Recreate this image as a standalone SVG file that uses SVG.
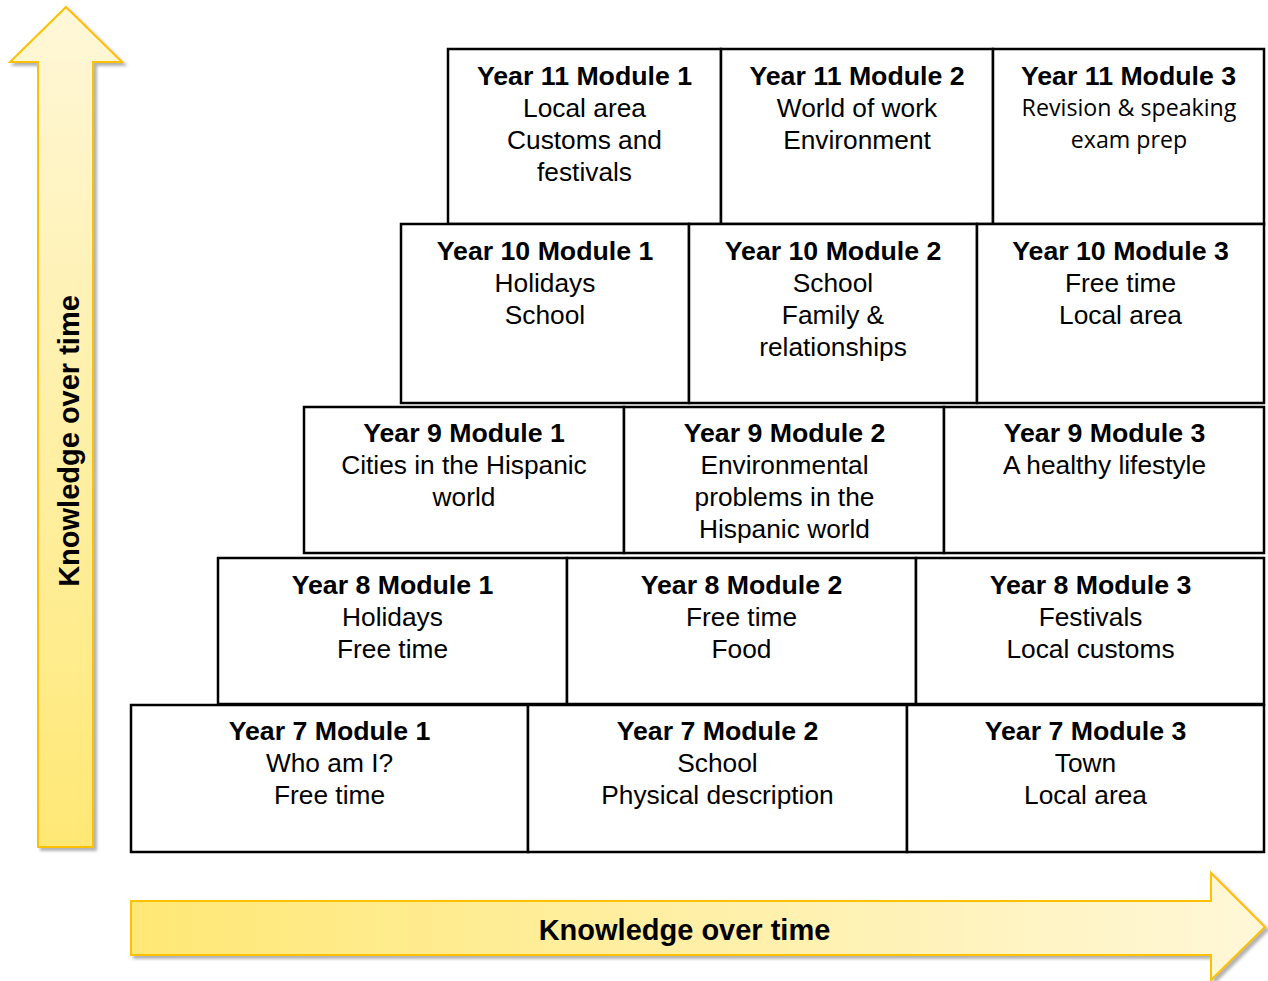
<svg xmlns="http://www.w3.org/2000/svg" width="1268" height="981" viewBox="0 0 1268 981">
<style>
.cell{fill:#ffffff;stroke:#000000;stroke-width:2.5}
.t{font-family:"Liberation Sans",Arial,sans-serif;font-size:26.3px;fill:#000000;text-anchor:middle}
.b{font-weight:bold;font-size:26.7px}
.c{font-family:"Open Sans","Noto Sans",sans-serif;font-size:23.2px;fill:#000000;text-anchor:middle}
.arrow{stroke:#ffc000;stroke-width:2;stroke-linejoin:miter}
.lbl{font-family:"Liberation Sans",Arial,sans-serif;font-size:29px;font-weight:bold;fill:#000000;text-anchor:middle}
</style>
<defs>
<linearGradient id="gv" x1="0" y1="0" x2="0" y2="1">
<stop offset="0" stop-color="#fff7d8"/>
<stop offset="1" stop-color="#ffe875"/>
</linearGradient>
<linearGradient id="gh" x1="0" y1="0" x2="1" y2="0">
<stop offset="0" stop-color="#ffe875"/>
<stop offset="1" stop-color="#fff7d8"/>
</linearGradient>
<filter id="sh" x="-10%" y="-10%" width="130%" height="130%">
<feDropShadow dx="3" dy="3" stdDeviation="1.5" flood-color="#808080" flood-opacity="0.6"/>
</filter>
</defs>

<g id="connectors">
<g id="arrow-vertical">
<path class="arrow" fill="url(#gv)" filter="url(#sh)" d="M66,7 L122,62 L93,62 L93,847 L38,847 L38,62 L10,62 Z"/>
<text class="lbl" transform="translate(79,441) rotate(-90)">Knowledge over time</text>
</g>
<g id="arrow-horizontal">
<path class="arrow" fill="url(#gh)" filter="url(#sh)" d="M131,901 L1211,901 L1211,873 L1265,927 L1211,980 L1211,955 L131,955 Z"/>
<text class="lbl" x="684.5" y="939.5">Knowledge over time</text>
</g>
</g>

<g id="y11m1">
<rect class="cell" x="448" y="49" width="273" height="175"/>
<text class="t b" x="584.5" y="85">Year 11 Module 1</text>
<text class="t" x="584.5" y="117">Local area</text>
<text class="t" x="584.5" y="149">Customs and</text>
<text class="t" x="584.5" y="181">festivals</text>
</g>
<g id="y11m2">
<rect class="cell" x="721" y="49" width="272" height="175"/>
<text class="t b" x="857" y="85">Year 11 Module 2</text>
<text class="t" x="857" y="117">World of work</text>
<text class="t" x="857" y="149">Environment</text>
</g>
<g id="y11m3">
<rect class="cell" x="993" y="49" width="271" height="175"/>
<text class="t b" x="1128.5" y="85">Year 11 Module 3</text>
<text class="c" x="1129" y="116">Revision &amp; speaking</text>
<text class="c" x="1129" y="148">exam prep</text>
</g>

<g id="y10m1">
<rect class="cell" x="401" y="224" width="288" height="179"/>
<text class="t b" x="545" y="260">Year 10 Module 1</text>
<text class="t" x="545" y="292">Holidays</text>
<text class="t" x="545" y="324">School</text>
</g>
<g id="y10m2">
<rect class="cell" x="689" y="224" width="288" height="179"/>
<text class="t b" x="833" y="260">Year 10 Module 2</text>
<text class="t" x="833" y="292">School</text>
<text class="t" x="833" y="324">Family &amp;</text>
<text class="t" x="833" y="356">relationships</text>
</g>
<g id="y10m3">
<rect class="cell" x="977" y="224" width="287" height="179"/>
<text class="t b" x="1120.5" y="260">Year 10 Module 3</text>
<text class="t" x="1120.5" y="292">Free time</text>
<text class="t" x="1120.5" y="324">Local area</text>
</g>

<g id="y9m1">
<rect class="cell" x="304" y="407" width="320" height="146"/>
<text class="t b" x="464" y="442">Year 9 Module 1</text>
<text class="t" x="464" y="474">Cities in the Hispanic</text>
<text class="t" x="464" y="506">world</text>
</g>
<g id="y9m2">
<rect class="cell" x="624" y="407" width="320" height="146"/>
<text class="t b" x="784.5" y="442">Year 9 Module 2</text>
<text class="t" x="784.5" y="474">Environmental</text>
<text class="t" x="784.5" y="506">problems in the</text>
<text class="t" x="784.5" y="538">Hispanic world</text>
</g>
<g id="y9m3">
<rect class="cell" x="944" y="407" width="320" height="146"/>
<text class="t b" x="1104.5" y="442">Year 9 Module 3</text>
<text class="t" x="1104.5" y="474">A healthy lifestyle</text>
</g>

<g id="y8m1">
<rect class="cell" x="218" y="558" width="349" height="146"/>
<text class="t b" x="392.5" y="594">Year 8 Module 1</text>
<text class="t" x="392.5" y="626">Holidays</text>
<text class="t" x="392.5" y="658">Free time</text>
</g>
<g id="y8m2">
<rect class="cell" x="567" y="558" width="349" height="146"/>
<text class="t b" x="741.5" y="594">Year 8 Module 2</text>
<text class="t" x="741.5" y="626">Free time</text>
<text class="t" x="741.5" y="658">Food</text>
</g>
<g id="y8m3">
<rect class="cell" x="916" y="558" width="348" height="146"/>
<text class="t b" x="1090.5" y="594">Year 8 Module 3</text>
<text class="t" x="1090.5" y="626">Festivals</text>
<text class="t" x="1090.5" y="658">Local customs</text>
</g>

<g id="y7m1">
<rect class="cell" x="131" y="705" width="397" height="147"/>
<text class="t b" x="329.5" y="740">Year 7 Module 1</text>
<text class="t" x="329.5" y="772">Who am I?</text>
<text class="t" x="329.5" y="804">Free time</text>
</g>
<g id="y7m2">
<rect class="cell" x="528" y="705" width="379" height="147"/>
<text class="t b" x="717.5" y="740">Year 7 Module 2</text>
<text class="t" x="717.5" y="772">School</text>
<text class="t" x="717.5" y="804">Physical description</text>
</g>
<g id="y7m3">
<rect class="cell" x="907" y="705" width="357" height="147"/>
<text class="t b" x="1085.5" y="740">Year 7 Module 3</text>
<text class="t" x="1085.5" y="772">Town</text>
<text class="t" x="1085.5" y="804">Local area</text>
</g>
</svg>
